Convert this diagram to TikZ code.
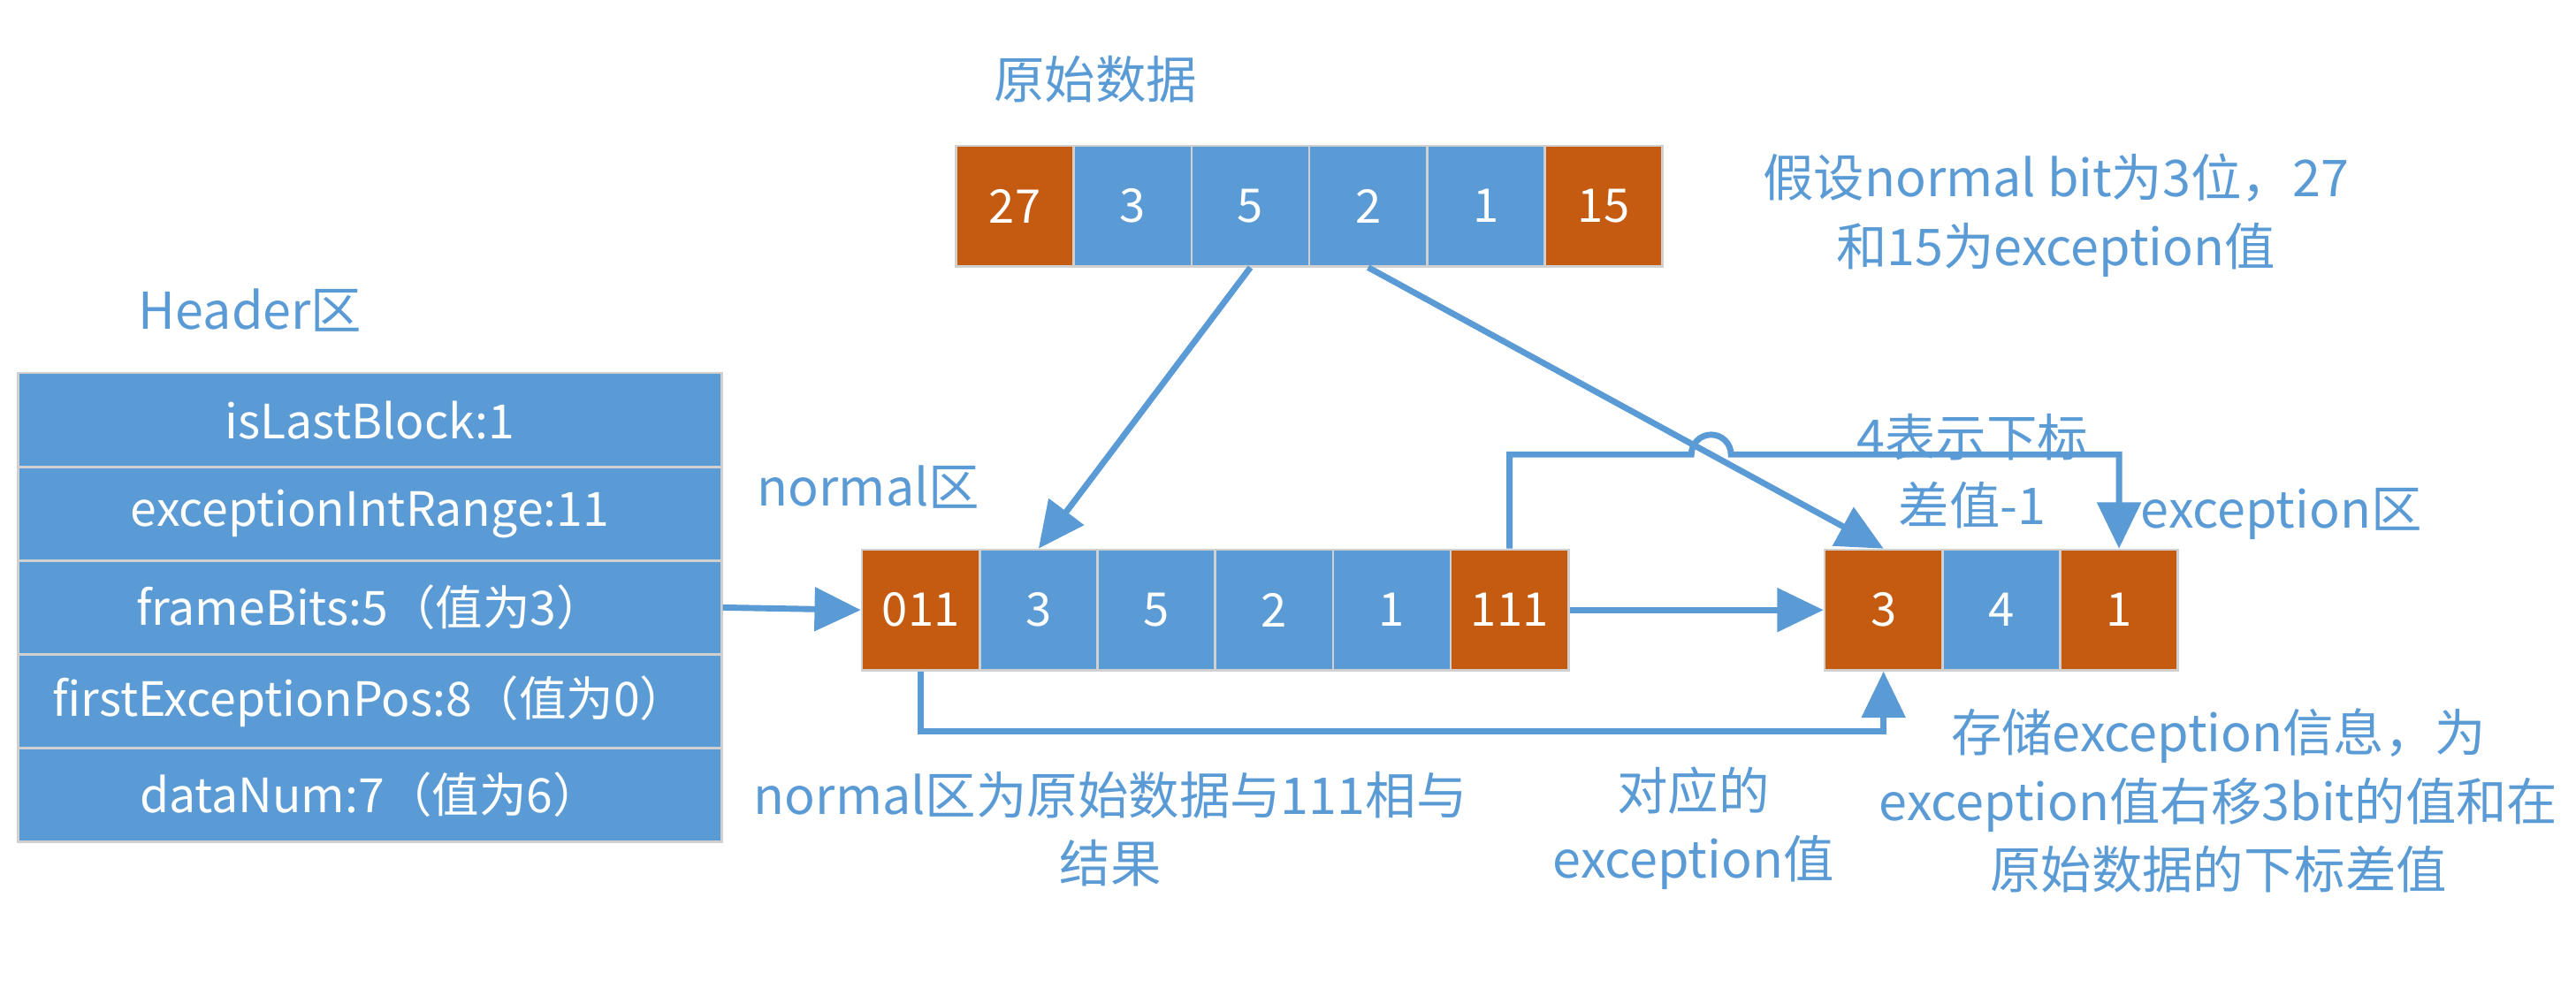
\documentclass[tikz,border=0pt]{standalone}
\usepackage{fontspec}
\setmainfont{Noto Sans CJK SC}
\usetikzlibrary{arrows.meta}
\definecolor{cblue}{HTML}{5B9BD5}
\definecolor{corange}{HTML}{C55A11}
\definecolor{cline}{HTML}{D0D0D0}

\begin{document}
\begin{tikzpicture}[node distance=1.426cm, >={Triangle[length=0.56cm,width=0.52cm]},
  cell/.style={draw=cline, line width=0.8pt, minimum width=1.426cm, minimum height=1.46cm, inner sep=0pt, text=white, font=\fontsize{16}{19}\selectfont},
  bcell/.style={cell, fill=cblue},
  ocell/.style={cell, fill=corange},
  hrow/.style={draw=cline, line width=0.8pt, fill=cblue, minimum width=8.52cm, minimum height=1.136cm, inner sep=0pt, text=white, font=\fontsize{16.3}{19}\selectfont, node distance=1.136cm},
  lbl/.style={text=cblue, align=center, font=\fontsize{17.5}{23.5}\selectfont},
  link/.style={->, line width=2.1pt, cblue}]
\useasboundingbox (0,0) rectangle (31.2,-12.06);

% original data
\node[lbl] (tOrig) at (13.27,-0.96) {原始数据};
\node[ocell] (o1) at (12.293,-2.496) {27};
\node[bcell, right of=o1] (o2) {3};
\node[bcell, right of=o2] (o3) {5};
\node[bcell, right of=o3] (o4) {2};
\node[bcell, right of=o4] (o5) {1};
\node[ocell, right of=o5] (o6) {15};
\node[lbl] (tAssume) at (24.9,-2.61) {假设normal bit为3位，27\\和15为exception值};

% header
\node[lbl] (tHead) at (3.03,-3.76) {Header区};
\node[hrow] (h1) at (4.48,-5.088) {isLastBlock:1};
\node[hrow, below of=h1] (h2) {exceptionIntRange:11};
\node[hrow, below of=h2] (h3) {frameBits:5（值为3）};
\node[hrow, below of=h3] (h4) {firstExceptionPos:8（值为0）};
\node[hrow, below of=h4] (h5) {dataNum:7（值为6）};

% normal area
\node[lbl] (tNorm) at (10.52,-5.9) {normal区};
\node[ocell] (n1) at (11.153,-7.39) {011};
\node[bcell, right of=n1] (n2) {3};
\node[bcell, right of=n2] (n3) {5};
\node[bcell, right of=n3] (n4) {2};
\node[bcell, right of=n4] (n5) {1};
\node[ocell, right of=n5] (n6) {111};
\node[lbl] (tNormNote) at (13.45,-10.04) {normal区为原始数据与111相与\\结果};

% exception area
\node[lbl] (tIdx) at (23.89,-5.71) {4表示下标\\差值-1};
\node[lbl] (tExc) at (27.63,-6.23) {exception区};
\node[ocell] (e1) at (22.813,-7.39) {3};
\node[bcell, right of=e1] (e2) {4};
\node[ocell, right of=e2] (e3) {1};
\node[lbl] (tVal) at (20.51,-10.03) {对应的\\exception值};
\node[lbl] (tStore) at (26.87,-9.7) {存储exception信息，为\\exception值右移3bit的值和在\\原始数据的下标差值};

\draw[link] (h3.east) -- (n1.west);
\draw[link] (o3.south) -- (n2.north);
\draw[link] (o4.south) -- (e1.north);
\draw[link] (n6.east) -- (e1.west);

\coordinate (hop0) at ([yshift=1.14cm]n6.north);
\coordinate (hop1) at (hop0 -| e3.north);
\coordinate (cross) at (intersection of o4.south--e1.north and hop0--hop1);
\draw[link] (n6.north) -- (hop0) -- ([xshift=-0.24cm]cross) arc[start angle=180, end angle=0, radius=0.24cm] -- (hop1) -- (e3.north);

\coordinate (low) at ([yshift=-0.73cm]n1.south);
\draw[link] (n1.south) -- (low) -| (e1.south);
\end{tikzpicture}
\end{document}
